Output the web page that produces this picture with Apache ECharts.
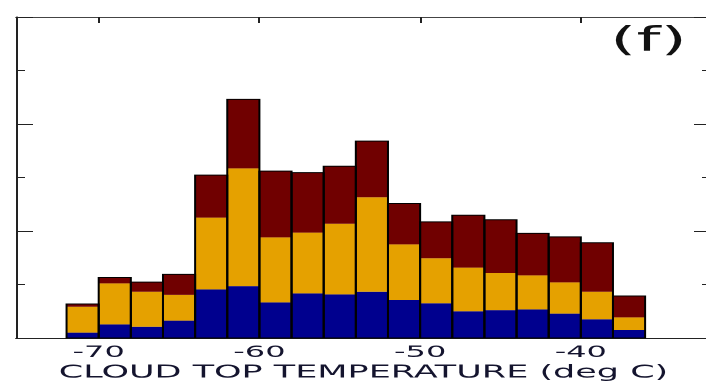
<!DOCTYPE html>
<html>
<head>
<meta charset="utf-8">
<script src="https://cdn.jsdelivr.net/npm/echarts@6/dist/echarts.min.js"></script>
<style>
  html, body { margin: 0; padding: 0; background: #fff; overflow: hidden; }
  #wrap { width: 706px; height: 381px; overflow: hidden; position: relative; }
  #chart { width: 353px; height: 381px; transform: scaleX(2); transform-origin: 0 0; }
</style>
</head>
<body>
<div id="wrap"><div id="chart"></div></div>
<script>
// Bin left edges (deg C), each bin 2 deg wide
const binLeft = [-72, -70, -68, -66, -64, -62, -60, -58, -56, -54, -52, -50, -48, -46, -44, -42, -40, -38];
const binWidth = 2;
// Stacked segment values (arbitrary units)
const blueVals   = [0.20, 0.51, 0.42, 0.65, 1.82, 1.94, 1.33, 1.67, 1.63, 1.73, 1.42, 1.30, 1.00, 1.04, 1.07, 0.91, 0.70, 0.30];
const orangeVals = [0.97, 1.53, 1.31, 0.96, 2.68, 4.40, 2.43, 2.27, 2.64, 3.53, 2.08, 1.68, 1.63, 1.39, 1.27, 1.17, 1.03, 0.47];
const redVals    = [0.10, 0.22, 0.36, 0.77, 1.59, 2.58, 2.48, 2.24, 2.15, 2.10, 1.53, 1.36, 1.96, 1.99, 1.57, 1.70, 1.83, 0.80];
const xTicks = [-70, -60, -50, -40];
const xTitle = 'CLOUD TOP TEMPERATURE (deg C)';
const panelLabel = '(f)';

const colors = { blue: '#00008e', orange: '#e5a100', red: '#700000' };

function stackData(vals, below) {
  return binLeft.map((x, i) => {
    const base = below.reduce((s, arr) => s + arr[i], 0);
    return [x, x + binWidth, base, base + vals[i]];
  });
}
const blueData = stackData(blueVals, []);
const orangeData = stackData(orangeVals, [blueVals]);
const redData = stackData(redVals, [blueVals, orangeVals]);
const outlineData = stackData(blueVals.map((v, i) => v + orangeVals[i] + redVals[i]), []);

function rectItem(fill, stroke) {
  return function (params, api) {
    const p0 = api.coord([api.value(0), api.value(3)]);
    const p1 = api.coord([api.value(1), api.value(2)]);
    return {
      type: 'rect',
      shape: { x: p0[0], y: p0[1], width: p1[0] - p0[0], height: p1[1] - p0[1] },
      style: stroke ? { fill: 'none', stroke: stroke, lineWidth: 1 } : { fill: fill, stroke: null }
    };
  };
}

const chart = echarts.init(document.getElementById('chart'), null, { renderer: 'canvas', devicePixelRatio: 2 });
const axisLineStyle = { color: '#222', width: 1 };
chart.setOption({
  animation: false,
  backgroundColor: '#fff',
  grid: { left: 8, top: 17, width: 347.5, height: 321, containLabel: false, outerBoundsMode: 'none' },
  xAxis: [{
    type: 'value', position: 'bottom', min: -75.146, max: -31.9,
    axisLine: { show: true, onZero: false, lineStyle: axisLineStyle },
    axisTick: { show: true, inside: true, length: 6, customValues: xTicks, lineStyle: axisLineStyle },
    axisLabel: { show: true, customValues: xTicks, margin: 7, fontSize: 16, color: '#14142e', fontFamily: 'DejaVu Sans' },
    splitLine: { show: false },
    name: xTitle, nameLocation: 'middle', nameGap: 26, nameMoveOverlap: false,
    nameTextStyle: { fontSize: 17.5, color: '#14142e', fontFamily: 'DejaVu Sans', verticalAlign: 'top' }
  }, {
    type: 'value', position: 'top', min: -75.146, max: -31.9,
    axisLine: { show: true, onZero: false, lineStyle: { color: '#444', width: 1 } },
    axisTick: { show: true, inside: true, length: 6, customValues: xTicks, lineStyle: axisLineStyle },
    axisLabel: { show: false },
    splitLine: { show: false }
  }],
  yAxis: [{
    type: 'value', position: 'left', min: 0, max: 12, interval: 4,
    axisLine: { show: true, lineStyle: axisLineStyle },
    axisTick: { show: true, inside: true, length: 8.5, lineStyle: axisLineStyle },
    minorTick: { show: true, splitNumber: 2, length: 4.5, lineStyle: axisLineStyle },
    axisLabel: { show: false },
    splitLine: { show: false }
  }, {
    type: 'value', position: 'right', min: 0, max: 12, interval: 4,
    axisLine: { show: true, lineStyle: axisLineStyle },
    axisTick: { show: true, inside: true, length: 8.5, lineStyle: axisLineStyle },
    minorTick: { show: true, splitNumber: 2, length: 4.5, lineStyle: axisLineStyle },
    axisLabel: { show: false },
    splitLine: { show: false }
  }],
  graphic: [{
    type: 'text', left: 305, top: 25,
    style: { text: panelLabel, fontSize: 34, fontFamily: 'DejaVu Sans', fill: '#111' }
  }],
  series: [
    { type: 'custom', renderItem: rectItem(colors.blue), data: blueData, encode: { x: [0, 1], y: [2, 3] } },
    { type: 'custom', renderItem: rectItem(colors.orange), data: orangeData, encode: { x: [0, 1], y: [2, 3] } },
    { type: 'custom', renderItem: rectItem(colors.red), data: redData, encode: { x: [0, 1], y: [2, 3] } },
    { type: 'custom', renderItem: rectItem(null, '#000'), data: outlineData, encode: { x: [0, 1], y: [2, 3] }, z: 3 }
  ]
});
</script>
</body>
</html>
